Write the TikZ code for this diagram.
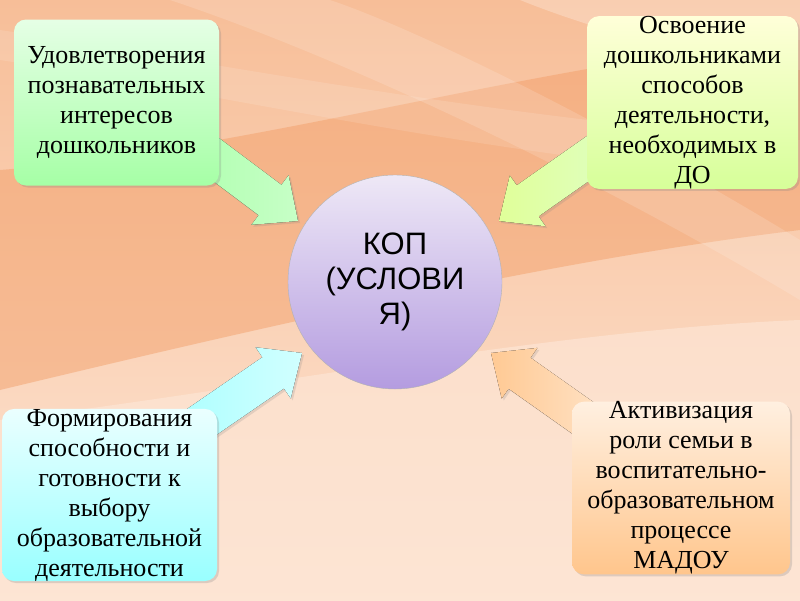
\documentclass[tikz,border=0pt]{standalone}
\usepackage{fontspec}
\setmainfont{Liberation Serif}
\newfontfamily\kopfont{Liberation Sans}
\usetikzlibrary{calc,shadows}

\definecolor{bgtop}{HTML}{F7BE98}
\definecolor{bgbot}{HTML}{FDE5D4}
\definecolor{bgband}{HTML}{F29B63}
\definecolor{kopTop}{HTML}{EEE8F6}
\definecolor{kopBot}{HTML}{B49CE0}

\begin{document}
\begin{tikzpicture}[x=1pt,y=-1pt,
  box/.style={rounded corners=12pt,minimum height=166pt,align=center,inner sep=0pt,
    font=\fontsize{26}{30}\selectfont,
    drop shadow={opacity=0.25,shadow xshift=2pt,shadow yshift=-2pt}},
  fatarrow/.style={drop shadow={opacity=0.2,shadow xshift=2pt,shadow yshift=-2pt}}]
  \useasboundingbox (0,0) rectangle (800,600);
  \shade[top color=bgtop,bottom color=bgbot] (0,0) rectangle (800,600);
  \fill[bgband,opacity=0.45] (0,170) .. controls (250,150) and (550,60) .. (800,40)
    -- (800,230) .. controls (550,260) and (250,330) .. (0,390) -- cycle;
  \fill[white,opacity=0.15] (170,0) .. controls (350,60) and (600,180) .. (800,300)
    -- (800,240) .. controls (620,130) and (420,30) .. (330,0) -- cycle;
  \fill[white,opacity=0.12] (0,60) .. controls (200,90) and (500,160) .. (800,180)
    -- (800,140) .. controls (500,120) and (200,60) .. (0,30) -- cycle;
  \fill[white,opacity=0.25] (520,0) .. controls (620,40) and (720,60) .. (800,70) -- (800,0) -- cycle;
  \fill[bgbot,opacity=0.7] (0,420) .. controls (250,390) and (550,330) .. (800,320)
    -- (800,600) -- (0,600) -- cycle;

  \coordinate (tls) at (190,140);  \coordinate (tlt) at (298,221);
  \coordinate (trs) at (600,150);  \coordinate (trt) at (499,221);
  \coordinate (bls) at (190,430);  \coordinate (blt) at (302,353);
  \coordinate (brs) at (600,430);  \coordinate (brt) at (491,353);
  \foreach \s/\t/\ca/\cb in {tls/tlt/green!22/green!32,trs/trt/yellow!50!green!25/yellow!70!green!40,
      bls/blt/cyan!18/cyan!32,brs/brt/orange!22/orange!42}
  {
    \coordinate (h) at ($(\t)!35pt!(\s)$);
    \fill[fatarrow,left color=\cb,right color=\ca] ($(\s)!19pt!90:(\t)$) -- ($(h)!19pt!90:(\t)$)
      -- ($(h)!31pt!90:(\t)$) -- (\t) -- ($(h)!31pt!-90:(\t)$) -- ($(h)!19pt!-90:(\t)$)
      -- ($(\s)!19pt!-90:(\t)$) -- cycle;
  }

  \node[box,minimum width=205pt,top color=green!10,bottom color=green!35] (tl) at (116.5,102.5)
    {Удовлетворения\\познавательных\\интересов\\дошкольников};
  \node[box,minimum width=211pt,top color=yellow!15,bottom color=yellow!60!green!40] (tr) at (692.5,102.5)
    {Освоение\\дошкольниками\\способов\\деятельности,\\необходимых в\\ДО};
  \node[box,minimum width=215pt,top color=cyan!8,bottom color=cyan!40] (bl) at (109.5,495)
    {Формирования\\способности и\\готовности к\\выбору\\образовательной\\деятельности};
  \node[box,minimum width=218pt,top color=orange!12,bottom color=orange!45] (br) at (681,488)
    {Активизация\\роли семьи в\\воспитательно-\\образовательном\\процессе\\МАДОУ};

  \node[circle,draw=black!30,minimum size=214pt,top color=kopTop,bottom color=kopBot,
    align=center,font=\kopfont\fontsize{31}{35}\selectfont] (kop) at (395,282) {КОП\\(УСЛОВИ\\Я)};
\end{tikzpicture}
\end{document}
